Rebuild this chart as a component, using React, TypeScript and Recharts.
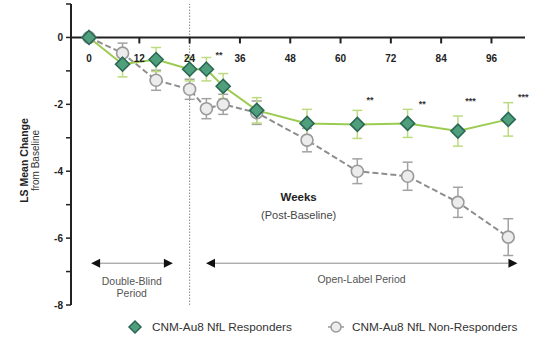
import React from 'react';
import {
  ComposedChart,
  Line,
  XAxis,
  YAxis,
  ReferenceLine,
  ReferenceDot,
  ErrorBar,
  Legend,
} from 'recharts';

// ---- data ----
const weeks = [0, 8, 16, 24, 28, 32, 40, 52, 64, 76, 88, 100];
const responders = [0, -0.8, -0.66, -0.95, -0.95, -1.46, -2.18, -2.57, -2.6, -2.57, -2.8, -2.45];
const respondersErr = [0, 0.38, 0.36, 0.35, 0.35, 0.38, 0.38, 0.42, 0.42, 0.42, 0.45, 0.5];
const nonResponders = [0, -0.47, -1.28, -1.55, -2.13, -2.0, -2.25, -3.07, -4.0, -4.15, -4.93, -5.97];
const nonRespondersErr = [0, 0.3, 0.3, 0.3, 0.3, 0.3, 0.35, 0.35, 0.37, 0.42, 0.45, 0.55];

const xTickWeeks = [0, 12, 24, 36, 48, 60, 72, 84, 96];
const yTicks = [1, 0, -1, -2, -3, -4, -5, -6, -7, -8];

const sigWeeks = [31, 67, 79.5, 91, 103.6];
const sigValues = [-0.62, -1.95, -2.08, -1.98, -1.86];
const sigLabels = ['**', '**', '**', '***', '***'];

const seriesNames = ['CNM-Au8 NfL Responders', 'CNM-Au8 NfL Non-Responders'];
const yLabelLines = ['LS Mean Change', 'from Baseline'];

// ---- styles ----
const FONT = '"Liberation Sans", Arial, Helvetica, sans-serif';
const GREEN_LINE = '#9ccb52';
const GREEN_ERR = '#bcdb80';
const DIAMOND_FILL = '#4f9f7c';
const DIAMOND_STROKE = '#2a6855';
const GRAY_LINE = '#8e8e8e';
const GRAY_ERR = '#a2a2a2';
const CIRCLE_FILL = '#ececec';
const CIRCLE_STROKE = '#9a9a9a';
const AXIS = '#222';

const data = weeks.map((w, i) => ({
  week: w,
  resp: responders[i],
  respErr: respondersErr[i],
  non: nonResponders[i],
  nonErr: nonRespondersErr[i],
}));

const diamondPath = (cx: number, cy: number, s: number) =>
  `M${cx},${cy - s} L${cx + s},${cy} L${cx},${cy + s} L${cx - s},${cy} Z`;

const DiamondDot = (props: any) => {
  const { cx, cy, index } = props;
  if (cx == null || cy == null) return <g key={`dd${index}`} />;
  return (
    <path
      key={`dd${index}`}
      d={diamondPath(cx, cy, 7)}
      fill={DIAMOND_FILL}
      stroke={DIAMOND_STROKE}
      strokeWidth={1.6}
    />
  );
};

const CircleDot = (props: any) => {
  const { cx, cy, index } = props;
  if (cx == null || cy == null) return <g key={`cd${index}`} />;
  return (
    <circle
      key={`cd${index}`}
      cx={cx}
      cy={cy}
      r={6}
      fill={CIRCLE_FILL}
      stroke={CIRCLE_STROKE}
      strokeWidth={1.6}
    />
  );
};

const makeXTick = (label: string) => (props: any) => {
  const { cx, cy } = props;
  return (
    <g>
      <line x1={cx} y1={cy} x2={cx} y2={cy + 6} stroke={AXIS} strokeWidth={2} />
      <text
        x={cx}
        y={cy + 25}
        textAnchor="middle"
        fontFamily={FONT}
        fontSize={10}
        fontWeight="bold"
        fill={AXIS}
      >
        {label}
      </text>
    </g>
  );
};

const makeText = (lines: string[], opts: { size: number; weight?: string; fill: string; lh?: number }) =>
  (props: any) => {
    const { cx, cy } = props;
    return (
      <text
        x={cx}
        y={cy}
        textAnchor="middle"
        fontFamily={FONT}
        fontSize={opts.size}
        fontWeight={opts.weight || 'normal'}
        fill={opts.fill}
      >
        {lines.map((l, i) => (
          <tspan key={i} x={cx} dy={i === 0 ? 0 : opts.lh || 12}>
            {l}
          </tspan>
        ))}
      </text>
    );
  };

const arrowShape = (props: any) => {
  const { x1, y1, x2, y2 } = props;
  const len = 9;
  const half = 4.5;
  return (
    <g>
      <line x1={x1 + len} y1={y1} x2={x2 - len} y2={y2} stroke="#8a8a8a" strokeWidth={1} />
      <path d={`M${x1},${y1} L${x1 + len},${y1 - half} L${x1 + len},${y1 + half} Z`} fill="#111" />
      <path d={`M${x2},${y2} L${x2 - len},${y2 - half} L${x2 - len},${y2 + half} Z`} fill="#111" />
    </g>
  );
};

const YLabel = (props: any) => {
  const vb = props.viewBox || {};
  const cy = vb.y + vb.height / 2 + 6;
  const x1 = vb.x - 7;
  const x2 = vb.x + 4;
  return (
    <g>
      <text
        x={x1}
        y={cy}
        transform={`rotate(-90, ${x1}, ${cy})`}
        textAnchor="middle"
        dominantBaseline="central"
        fontFamily={FONT}
        fontSize={10.5}
        fontWeight="bold"
        fill={AXIS}
      >
        {yLabelLines[0]}
      </text>
      <text
        x={x2}
        y={cy}
        transform={`rotate(-90, ${x2}, ${cy})`}
        textAnchor="middle"
        dominantBaseline="central"
        fontFamily={FONT}
        fontSize={10}
        fill="#333"
      >
        {yLabelLines[1]}
      </text>
    </g>
  );
};

const LegendContent = () => (
  <div
    style={{
      display: 'flex',
      alignItems: 'center',
      fontFamily: FONT,
      fontSize: 11.8,
      color: '#333',
      whiteSpace: 'nowrap',
    }}
  >
    <svg width={16} height={16} style={{ display: 'block' }}>
      <path d={diamondPath(8, 8, 6)} fill={DIAMOND_FILL} stroke={DIAMOND_STROKE} strokeWidth={1.5} />
    </svg>
    <span style={{ marginLeft: 9 }}>{seriesNames[0]}</span>
    <svg width={16} height={16} style={{ display: 'block', marginLeft: 36 }}>
      <path d="M0,8 L3,8 M13,8 L16,8" stroke={CIRCLE_STROKE} strokeWidth={1.5} />
      <circle cx={8} cy={8} r={5} fill={CIRCLE_FILL} stroke={CIRCLE_STROKE} strokeWidth={1.5} />
    </svg>
    <span style={{ marginLeft: 8 }}>{seriesNames[1]}</span>
  </div>
);

export default function App() {
  return (
    <div style={{ position: 'absolute', left: 0, top: 0, background: '#fff' }}>
      <ComposedChart
        width={534}
        height={345}
        data={data}
        margin={{ top: 4, right: 9, bottom: 40, left: 31 }}
        style={{ fontFamily: FONT }}
      >
        <XAxis
          dataKey="week"
          type="number"
          domain={[-4.3, 104]}
          allowDataOverflow
          hide
        />
        <YAxis
          type="number"
          domain={[-8, 1]}
          ticks={yTicks}
          interval={0}
          width={40}
          tickSize={5}
          tickMargin={3}
          axisLine={{ stroke: AXIS, strokeWidth: 2 }}
          tickLine={{ stroke: AXIS, strokeWidth: 1.5 }}
          tick={{ fontSize: 10, fontWeight: 'bold', fill: AXIS, fontFamily: FONT }}
          tickFormatter={(v: number) => (v % 2 === 0 ? String(v) : '')}
          label={{ value: yLabelLines[0], content: (p: any) => <YLabel {...p} /> }}
        />

        <ReferenceLine x={24} stroke="#8a8a8a" strokeWidth={1} strokeDasharray="1.5 1.5" />
        <ReferenceLine y={0} stroke={AXIS} strokeWidth={2} />
        {xTickWeeks.map((w) => (
          <ReferenceDot key={`xt${w}`} x={w} y={0} r={1} shape={makeXTick(String(w))} />
        ))}

        <ReferenceLine
          segment={[
            { x: 0.5, y: -6.75 },
            { x: 20, y: -6.75 },
          ]}
          shape={arrowShape}
        />
        <ReferenceLine
          segment={[
            { x: 27.9, y: -6.75 },
            { x: 102.2, y: -6.75 },
          ]}
          shape={arrowShape}
        />

        <ReferenceDot x={10.2} y={-7.4} r={1} shape={makeText(['Double-Blind', 'Period'], { size: 10.5, fill: '#555', lh: 12 })} />
        <ReferenceDot x={65} y={-7.35} r={1} shape={makeText(['Open-Label Period'], { size: 10.5, fill: '#555' })} />
        <ReferenceDot x={50} y={-4.9} r={1} shape={makeText(['Weeks'], { size: 11.5, weight: 'bold', fill: '#222' })} />
        <ReferenceDot x={50} y={-5.42} r={1} shape={makeText(['(Post-Baseline)'], { size: 11, fill: '#444' })} />

        {sigWeeks.map((w, i) => (
          <ReferenceDot
            key={`sig${i}`}
            x={w}
            y={sigValues[i]}
            r={1}
            ifOverflow="visible"
            shape={makeText([sigLabels[i]], { size: 9, weight: 'bold', fill: '#333' })}
          />
        ))}

        <Line
          dataKey="non"
          name={seriesNames[1]}
          stroke={GRAY_LINE}
          strokeWidth={2}
          strokeDasharray="6 3"
          dot={CircleDot}
          activeDot={false}
          isAnimationActive={false}
        >
          <ErrorBar dataKey="nonErr" width={5} stroke={GRAY_ERR} strokeWidth={1.5} direction="y" />
        </Line>
        <Line
          dataKey="resp"
          name={seriesNames[0]}
          stroke={GREEN_LINE}
          strokeWidth={2}
          dot={DiamondDot}
          activeDot={false}
          isAnimationActive={false}
        >
          <ErrorBar dataKey="respErr" width={5} stroke={GREEN_ERR} strokeWidth={1.5} direction="y" />
        </Line>

        <Legend
          layout="horizontal"
          verticalAlign="middle"
          align="center"
          width={420}
          wrapperStyle={{ left: 127, top: 319 }}
          content={() => <LegendContent />}
        />
      </ComposedChart>
    </div>
  );
}
